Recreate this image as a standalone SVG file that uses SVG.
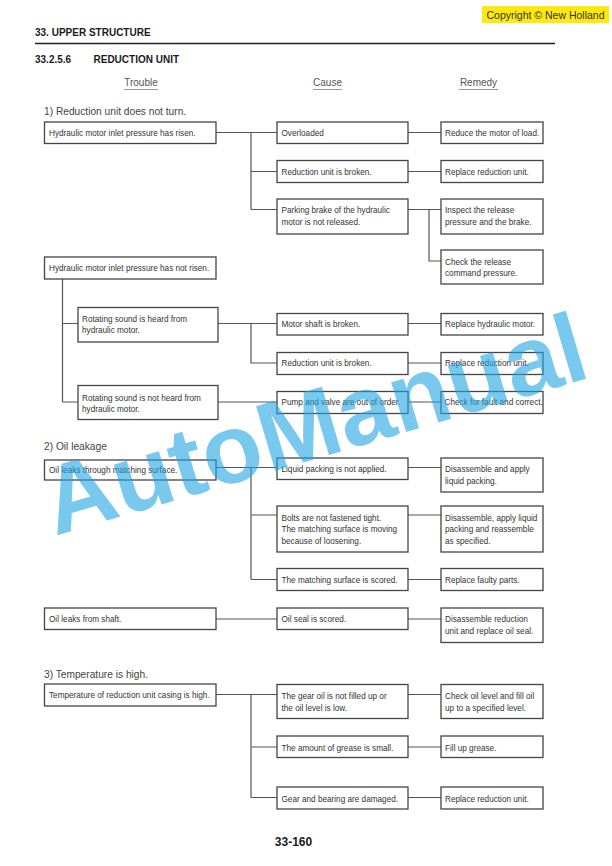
<svg xmlns="http://www.w3.org/2000/svg" width="612" height="866" viewBox="0 0 612 866">
<style>
.bx{fill:#fff;stroke:#444;stroke-width:1.3}
.t{font-family:"Liberation Sans",Arial,sans-serif;font-size:8.2px;fill:#333}
.h{font-family:"Liberation Sans",Arial,sans-serif;font-size:10px;font-weight:bold;fill:#1a1a1a}
.col{font-family:"Liberation Sans",Arial,sans-serif;font-size:10px;fill:#555;text-anchor:middle}
.sec{font-family:"Liberation Sans",Arial,sans-serif;font-size:10.2px;fill:#444}
.ln{stroke:#555;stroke-width:1.2;fill:none}
</style>
<rect width="612" height="866" fill="#fff"/>
<g id="header">
<rect x="482" y="6" width="127" height="17" fill="#fde910"/>
<text x="545.5" y="18.5" font-family="Liberation Sans,Arial,sans-serif" font-size="10.5" fill="#333" text-anchor="middle">Copyright © New Holland</text>
<text class="h" x="35" y="36">33. UPPER STRUCTURE</text>
<line x1="35" y1="43.5" x2="555" y2="43.5" stroke="#222" stroke-width="1.5"/>
<text class="h" x="35" y="63">33.2.5.6</text>
<text class="h" x="93.5" y="63">REDUCTION UNIT</text>
<text class="col" x="141" y="86">Trouble</text>
<line x1="124" y1="89.5" x2="158" y2="89.5" stroke="#999" stroke-width="1"/>
<text class="col" x="327.5" y="86">Cause</text>
<line x1="313" y1="89.5" x2="342" y2="89.5" stroke="#999" stroke-width="1"/>
<text class="col" x="478.5" y="86">Remedy</text>
<line x1="459" y1="89.5" x2="498" y2="89.5" stroke="#999" stroke-width="1"/>
<text class="sec" x="44" y="114.5">1) Reduction unit does not turn.</text>
<text class="sec" x="44" y="449.5">2) Oil leakage</text>
<text class="sec" x="44" y="677.5">3) Temperature is high.</text>
<text x="293.5" y="845.5" font-family="Liberation Sans,Arial,sans-serif" font-size="12" font-weight="bold" fill="#1a1a1a" text-anchor="middle">33-160</text>
</g>
<g id="connectors">
<path class="ln" d="M216 132.5H277M251 132.5V209.5M251 171.5H277M251 209.5H277"/>
<path class="ln" d="M408 132.5H441M408 171.5H441M408 209.5H441M429 209.5V261H441"/>
<path class="ln" d="M62.5 279V402M62.5 323.5H78M62.5 402H78"/>
<path class="ln" d="M218 323.5H277M251 323.5V363H277M218 402H277"/>
<path class="ln" d="M408 323.5H441M408 363H441M408 402H441"/>
<path class="ln" d="M216 467.5H277M251 467.5V579.5M251 515H277M251 579.5H277"/>
<path class="ln" d="M408 467.5H441M408 515H441M408 579.5H441M216 619H277M408 619H441"/>
<path class="ln" d="M216 694.5H277M251 694.5V797.5M251 747H277M251 797.5H277"/>
<path class="ln" d="M408 694.5H441M408 747H441M408 797.5H441"/>
</g>
<g id="t1"><rect class="bx" x="44.5" y="122" width="171.5" height="21.5"/><text class="t" x="49" y="135.5">Hydraulic motor inlet pressure has risen.</text></g>
<g id="c1"><rect class="bx" x="277" y="122" width="131" height="21.5"/><text class="t" x="281.5" y="135.5">Overloaded</text></g>
<g id="r1"><rect class="bx" x="441" y="122" width="102" height="21.5"/><text class="t" x="445" y="135.5">Reduce the motor of load.</text></g>
<g id="c2"><rect class="bx" x="277" y="160.5" width="131" height="22"/><text class="t" x="281.5" y="174.5">Reduction unit is broken.</text></g>
<g id="r2"><rect class="bx" x="441" y="160.5" width="102" height="22"/><text class="t" x="445" y="174.5">Replace reduction unit.</text></g>
<g id="c3"><rect class="bx" x="277" y="199" width="131" height="35"/><text class="t" x="281.5" y="213">Parking brake of the hydraulic</text><text class="t" x="281.5" y="225">motor is not released.</text></g>
<g id="r3"><rect class="bx" x="441" y="199" width="102" height="35"/><text class="t" x="445" y="213">Inspect the release</text><text class="t" x="445" y="225">pressure and the brake.</text></g>
<g id="r4"><rect class="bx" x="441" y="250" width="102" height="34"/><text class="t" x="445" y="264.5">Check the release</text><text class="t" x="445" y="276">command pressure.</text></g>
<g id="t2"><rect class="bx" x="44.5" y="257" width="171.5" height="22"/><text class="t" x="49" y="271">Hydraulic motor inlet pressure has not risen.</text></g>
<g id="s1"><rect class="bx" x="78" y="307.5" width="140" height="34.5"/><text class="t" x="82" y="321.5">Rotating sound is heard from</text><text class="t" x="82" y="333">hydraulic motor.</text></g>
<g id="s2"><rect class="bx" x="78" y="385.5" width="140" height="34"/><text class="t" x="82" y="400.5">Rotating sound is not heard from</text><text class="t" x="82" y="411.5">hydraulic motor.</text></g>
<g id="c4"><rect class="bx" x="277" y="313.5" width="131" height="21.5"/><text class="t" x="281.5" y="327">Motor shaft is broken.</text></g>
<g id="r5"><rect class="bx" x="441" y="313.5" width="102" height="21.5"/><text class="t" x="445" y="327">Replace hydraulic motor.</text></g>
<g id="c5"><rect class="bx" x="277" y="352.5" width="131" height="22"/><text class="t" x="281.5" y="366">Reduction unit is broken.</text></g>
<g id="r6"><rect class="bx" x="441" y="352.5" width="102" height="22"/><text class="t" x="445" y="366">Replace reduction unit.</text></g>
<g id="c6"><rect class="bx" x="277" y="391.5" width="131" height="22"/><text class="t" x="281.5" y="405">Pump and valve are out of order.</text></g>
<g id="r7"><rect class="bx" x="441" y="391.5" width="102" height="22"/><text class="t" x="444.5" y="405">Check for fault and correct.</text></g>
<g id="t3"><rect class="bx" x="44.5" y="460" width="171.5" height="20"/><text class="t" x="49" y="472.5">Oil leaks through matching surface.</text></g>
<g id="c7"><rect class="bx" x="277" y="458" width="131" height="21.5"/><text class="t" x="281.5" y="472">Liquid packing is not applied.</text></g>
<g id="r8"><rect class="bx" x="441" y="458" width="102" height="34"/><text class="t" x="445" y="472">Disassemble and apply</text><text class="t" x="445" y="483.5">liquid packing.</text></g>
<g id="c8"><rect class="bx" x="277" y="506" width="131" height="46"/><text class="t" x="281.5" y="520.5">Bolts are not fastened tight.</text><text class="t" x="281.5" y="532">The matching surface is moving</text><text class="t" x="281.5" y="543.5">because of loosening.</text></g>
<g id="r9"><rect class="bx" x="441" y="506" width="102" height="46"/><text class="t" x="445" y="520.5">Disassemble, apply liquid</text><text class="t" x="445" y="532">packing and reassemble</text><text class="t" x="445" y="543.5">as specified.</text></g>
<g id="c9"><rect class="bx" x="277" y="568.5" width="131" height="22"/><text class="t" x="281.5" y="583">The matching surface is scored.</text></g>
<g id="r10"><rect class="bx" x="441" y="568.5" width="102" height="22"/><text class="t" x="445" y="583">Replace faulty parts.</text></g>
<g id="t4"><rect class="bx" x="44.5" y="608" width="171.5" height="21.5"/><text class="t" x="49" y="622">Oil leaks from shaft.</text></g>
<g id="c10"><rect class="bx" x="277" y="608" width="131" height="21.5"/><text class="t" x="281.5" y="622">Oil seal is scored.</text></g>
<g id="r11"><rect class="bx" x="441" y="608" width="102" height="34.5"/><text class="t" x="445" y="622">Disassemble reduction</text><text class="t" x="445" y="633.5">unit and replace oil seal.</text></g>
<g id="t5"><rect class="bx" x="44.5" y="684" width="171.5" height="22"/><text class="t" x="49" y="698">Temperature of reduction unit casing is high.</text></g>
<g id="c11"><rect class="bx" x="277" y="684.5" width="131" height="34"/><text class="t" x="281.5" y="699">The gear oil is not filled up or</text><text class="t" x="281.5" y="710.5">the oil level is low.</text></g>
<g id="r12"><rect class="bx" x="441" y="684.5" width="102" height="34"/><text class="t" x="445" y="699">Check oil level and fill oil</text><text class="t" x="445" y="710.5">up to a specified level.</text></g>
<g id="c12"><rect class="bx" x="277" y="736" width="131" height="21.5"/><text class="t" x="281.5" y="750.5">The amount of grease is small.</text></g>
<g id="r13"><rect class="bx" x="441" y="736" width="102" height="21.5"/><text class="t" x="445" y="750.5">Fill up grease.</text></g>
<g id="c13"><rect class="bx" x="277" y="787" width="131" height="22"/><text class="t" x="281.5" y="801.5">Gear and bearing are damaged.</text></g>
<g id="r14"><rect class="bx" x="441" y="787" width="102" height="22"/><text class="t" x="445" y="801.5">Replace reduction unit.</text></g>
<g id="watermark">
<text transform="translate(55 536) rotate(-16.5)" font-family="Liberation Sans,Arial,sans-serif" font-size="98" font-weight="bold" fill="#1fa3e3" fill-opacity="0.6">AutoManual</text>
</g>
</svg>
